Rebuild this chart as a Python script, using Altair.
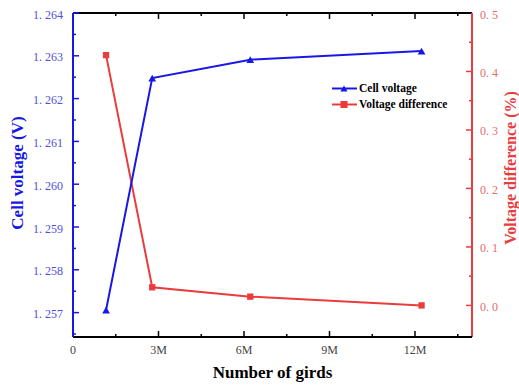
import altair as alt
import pandas as pd

# ---- data ----
grids = [1.16e6, 2.78e6, 6.22e6, 12.23e6]
cell_voltage = [1.25706, 1.26248, 1.26291, 1.26311]
voltage_diff = [0.428, 0.031, 0.015, 0.0]
series_names = ["Cell voltage", "Voltage difference"]
x_title = ["Number of girds"]
y1_title = ["Cell voltage (V)"]
y2_title = ["Voltage difference (%)"]

x_major = [0, 3e6, 6e6, 9e6, 12e6]
x_minor = [1.5e6, 4.5e6, 7.5e6, 10.5e6, 13.5e6]
y1_major = [1.257, 1.258, 1.259, 1.260, 1.261, 1.262, 1.263, 1.264]
y1_minor = [1.2565, 1.2575, 1.2585, 1.2595, 1.2605, 1.2615, 1.2625, 1.2635]
y2_major = [0.0, 0.1, 0.2, 0.3, 0.4, 0.5]
y2_minor = [0.05, 0.15, 0.25, 0.35, 0.45]

# ---- styling ----
W, H = 399, 324
BLUE = "#1818e6"
RED = "#ea3c3c"
BLUE_LBL = "#5050d8"
RED_LBL = "#e86a6a"
SERIF = "Liberation Serif"
MAJ, MIN = 6, 3

df = pd.DataFrame({"grids": grids, "cv": cell_voltage, "vd": voltage_diff})
one = pd.DataFrame({"k": [0]})

xs = alt.Scale(domain=[0, 14e6], nice=False, zero=False)
y1s = alt.Scale(domain=[1.25643, 1.264], nice=False, zero=False)
y2s = alt.Scale(domain=[-0.054, 0.5], nice=False, zero=False)


def xtick(values, length, at_top):
    d = pd.DataFrame({"grids": [v for v in values if v > 0]})
    yc = length / 2 if at_top else H - length / 2
    return alt.Chart(d).mark_tick(orient="vertical", size=length, thickness=1.5,
                                  color="black", opacity=1).encode(
        x=alt.X("grids:Q", scale=xs, axis=None), y=alt.value(yc))


def ytick(values, field, scale, color, length, left):
    d = pd.DataFrame({field: values})
    xc = length / 2 if left else W - length / 2
    return alt.Chart(d).mark_tick(orient="horizontal", size=length, thickness=1.5,
                                  color=color, opacity=1).encode(
        y=alt.Y(f"{field}:Q", scale=scale, axis=None), x=alt.value(xc))


def frame_line(color, **pos):
    return alt.Chart(one).mark_rule(color=color, strokeWidth=2).encode(
        **{k: alt.value(v) for k, v in pos.items()})


def title_text(text, color, size, x, y, angle=0):
    return alt.Chart(pd.DataFrame({"t": text})).mark_text(
        font=SERIF, fontSize=size, fontWeight="bold", color=color, angle=angle,
        align="center", baseline="middle").encode(
        x=alt.value(x), y=alt.value(y), text="t:N")


# ---- blue series (left axis) ----
blue_base = alt.Chart(df).encode(
    x=alt.X("grids:Q", scale=xs, axis=None),
    y=alt.Y("cv:Q", scale=y1s, axis=None),
)
x_labels = alt.Chart(pd.DataFrame({"grids": x_major})).transform_calculate(
    lbl="datum.grids == 0 ? '0' : format(datum.grids / 1e6, 'd') + 'M'"
).mark_text(font=SERIF, fontSize=12, color="#444444", align="center",
            baseline="middle").encode(
    x=alt.X("grids:Q", scale=xs, axis=None), y=alt.value(H + 13), text="lbl:N")
y1_labels = alt.Chart(pd.DataFrame({"cv": y1_major})).transform_calculate(
    lbl="replace(format(datum.cv, '.3f'), '.', '. ')"
).mark_text(font=SERIF, fontSize=12, color=BLUE_LBL, align="right",
            baseline="middle", dy=1.5).encode(
    y=alt.Y("cv:Q", scale=y1s, axis=None), x=alt.value(-10), text="lbl:N")

blue = alt.layer(
    blue_base.mark_line(color=BLUE, strokeWidth=2),
    blue_base.mark_point(shape="triangle-up", filled=True, size=60, color=BLUE, opacity=1),
    xtick(x_major, MAJ, False),
    xtick(x_minor, MIN, False),
    ytick(y1_major, "cv", y1s, BLUE, MAJ, True),
    ytick(y1_minor, "cv", y1s, BLUE, MIN, True),
    x_labels,
    y1_labels,
    frame_line("black", x=0, x2=W, y=H),
    frame_line(BLUE, x=0, y=0, y2=H),
    title_text(x_title, "black", 17, W / 2, H + 36),
    title_text(y1_title, BLUE, 17, -55.5, 160, angle=270),
)

# ---- red series (right axis) ----
red_base = alt.Chart(df).encode(
    x=alt.X("grids:Q", scale=xs, axis=None),
    y=alt.Y("vd:Q", scale=y2s, axis=None),
)
y2_labels = alt.Chart(pd.DataFrame({"vd": y2_major})).transform_calculate(
    lbl="replace(format(datum.vd, '.1f'), '.', '. ')"
).mark_text(font=SERIF, fontSize=12, color=RED_LBL, align="left",
            baseline="middle", dy=1.5).encode(
    y=alt.Y("vd:Q", scale=y2s, axis=None), x=alt.value(W + 8), text="lbl:N")

red = alt.layer(
    red_base.mark_line(color=RED, strokeWidth=2),
    red_base.mark_point(shape="square", filled=True, size=40, color=RED, opacity=1),
    xtick(x_major, MAJ, True),
    xtick(x_minor, MIN, True),
    ytick(y2_major, "vd", y2s, RED, MAJ, False),
    ytick(y2_minor, "vd", y2s, RED, MIN, False),
    y2_labels,
    frame_line("black", x=0, x2=W, y=0),
    frame_line(RED, x=W, y=0, y2=H),
    title_text(y2_title, RED, 16, W + 39, 155, angle=270),
)

# ---- legend (inside the plot) ----
leg = pd.DataFrame({"name": series_names, "idx": [0, 1]})
cscale = alt.Scale(domain=series_names, range=[BLUE, RED])
sscale = alt.Scale(domain=series_names, range=["triangle-up", "square"])
leg_base = alt.Chart(leg).transform_calculate(
    py="75.5 + datum.idx * 16", x0="259", x1="284", xm="271", xt="286"
)
leg_rule = leg_base.mark_rule(strokeWidth=2).encode(
    x=alt.X("x0:Q", scale=None, axis=None), x2="x1:Q",
    y=alt.Y("py:Q", scale=None, axis=None),
    color=alt.Color("name:N", scale=cscale, legend=None),
)
leg_pt = leg_base.mark_point(filled=True, opacity=1, size=50).encode(
    x=alt.X("xm:Q", scale=None, axis=None),
    y=alt.Y("py:Q", scale=None, axis=None),
    color=alt.Color("name:N", scale=cscale, legend=None),
    shape=alt.Shape("name:N", scale=sscale, legend=None),
)
leg_txt = leg_base.mark_text(align="left", baseline="middle", font=SERIF,
                             fontSize=11.5, fontWeight="bold", color="black").encode(
    x=alt.X("xt:Q", scale=None, axis=None),
    y=alt.Y("py:Q", scale=None, axis=None),
    text="name:N",
)
legend = alt.layer(leg_rule, leg_pt, leg_txt)

chart = alt.layer(red, blue, legend).resolve_scale(
    x="independent", y="independent", color="independent", shape="independent"
).properties(
    width=W, height=H,
    autosize=alt.AutoSizeParams(type="none"),
    padding={"left": 73, "top": 13, "right": 47, "bottom": 48},
    background="white",
).configure_view(stroke=None)

chart.save("out.html", embed_options={"renderer": "svg", "actions": False})
